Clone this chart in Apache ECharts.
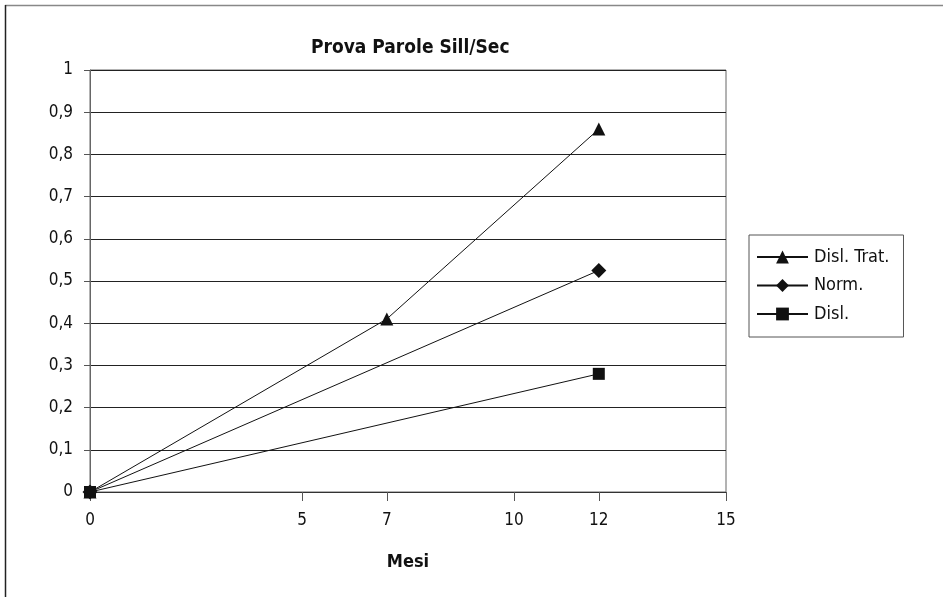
<!DOCTYPE html>
<html>
<head>
<meta charset="utf-8">
<script src="https://cdn.jsdelivr.net/npm/echarts@6/dist/echarts.min.js"></script>
<style>
  html, body { margin: 0; padding: 0; background: #fff; }
  #chart { width: 943px; height: 597px; }
</style>
</head>
<body>
<div id="chart"></div>
<script>
// Months on the x axis and the labelled tick positions
const xTicks = [0, 5, 7, 10, 12, 15];

// Syllables per second for each group: [month, value]
const dislTrat = [[0, 0], [7, 0.41], [12, 0.86]];
const norm = [[0, 0], [12, 0.525]];
const disl = [[0, 0], [12, 0.28]];

const FONT = "'DejaVu Sans Condensed', 'Liberation Sans Narrow', 'Open Sans', sans-serif";

const chart = echarts.init(document.getElementById('chart'), null, { renderer: 'canvas' });

function lineSeries(name, data, symbol, size) {
  return {
    name: name,
    type: 'line',
    data: data,
    symbol: symbol,
    symbolSize: size,
    showAllSymbol: true,
    lineStyle: { color: '#111', width: 1 },
    itemStyle: { color: '#111', borderWidth: 0 },
    emphasis: { disabled: true },
    animation: false
  };
}

chart.setOption({
  backgroundColor: '#fff',
  animation: false,
  textStyle: { fontFamily: FONT, color: '#111' },
  title: {
    text: 'Prova Parole Sill/Sec',
    left: 306,
    top: 34,
    textStyle: { fontFamily: FONT, fontSize: 19, fontWeight: 'bold', color: '#111' }
  },
  legend: {
    orient: 'vertical',
    left: 749,
    top: 235,
    padding: [13, 14, 14, 7],
    itemWidth: 51,
    itemHeight: 16,
    itemGap: 10.5,
    borderColor: '#555',
    borderWidth: 1,
    backgroundColor: '#fff',
    textStyle: { fontFamily: FONT, fontSize: 18, lineHeight: 16, color: '#111', padding: [0, 0, 0, 1] },
    data: ['Disl. Trat.', 'Norm.', 'Disl.']
  },
  grid: {
    left: 90,
    right: 217,
    top: 70,
    bottom: 105,
    show: true,
    borderColor: '#666',
    borderWidth: 1,
    backgroundColor: 'transparent'
  },
  xAxis: {
    type: 'value',
    min: 0,
    max: 15,
    interval: 1,
    name: 'Mesi',
    nameLocation: 'middle',
    nameGap: 61,
    nameTextStyle: { fontFamily: FONT, fontSize: 18, fontWeight: 'bold', color: '#111' },
    axisLine: { show: true, onZero: false, lineStyle: { color: '#333', width: 1 } },
    axisTick: { show: true, length: 9, customValues: xTicks, lineStyle: { color: '#555' } },
    axisLabel: { customValues: xTicks, margin: 20, fontFamily: FONT, fontSize: 17, color: '#111' },
    splitLine: { show: false }
  },
  yAxis: {
    type: 'value',
    min: 0,
    max: 1,
    interval: 0.1,
    axisLine: { show: true, lineStyle: { color: '#666', width: 1 } },
    axisTick: { show: true, length: 6, lineStyle: { color: '#555' } },
    axisLabel: {
      margin: 17,
      fontFamily: FONT,
      fontSize: 17,
      color: '#111',
      formatter: v => String(Math.round(v * 10) / 10).replace('.', ',')
    },
    splitLine: { show: true, lineStyle: { color: '#222', width: 1 } }
  },
  graphic: [
    { type: 'line', shape: { x1: 5, y1: 5.5, x2: 943, y2: 5.5 }, style: { stroke: '#888', lineWidth: 1.5 }, silent: true },
    { type: 'line', shape: { x1: 5.5, y1: 5, x2: 5.5, y2: 597 }, style: { stroke: '#222', lineWidth: 1.5 }, silent: true }
  ],
  series: [
    lineSeries('Disl. Trat.', dislTrat, 'triangle', 13),
    lineSeries('Norm.', norm, 'diamond', 15),
    lineSeries('Disl.', disl, 'rect', 12)
  ]
});
</script>
</body>
</html>
